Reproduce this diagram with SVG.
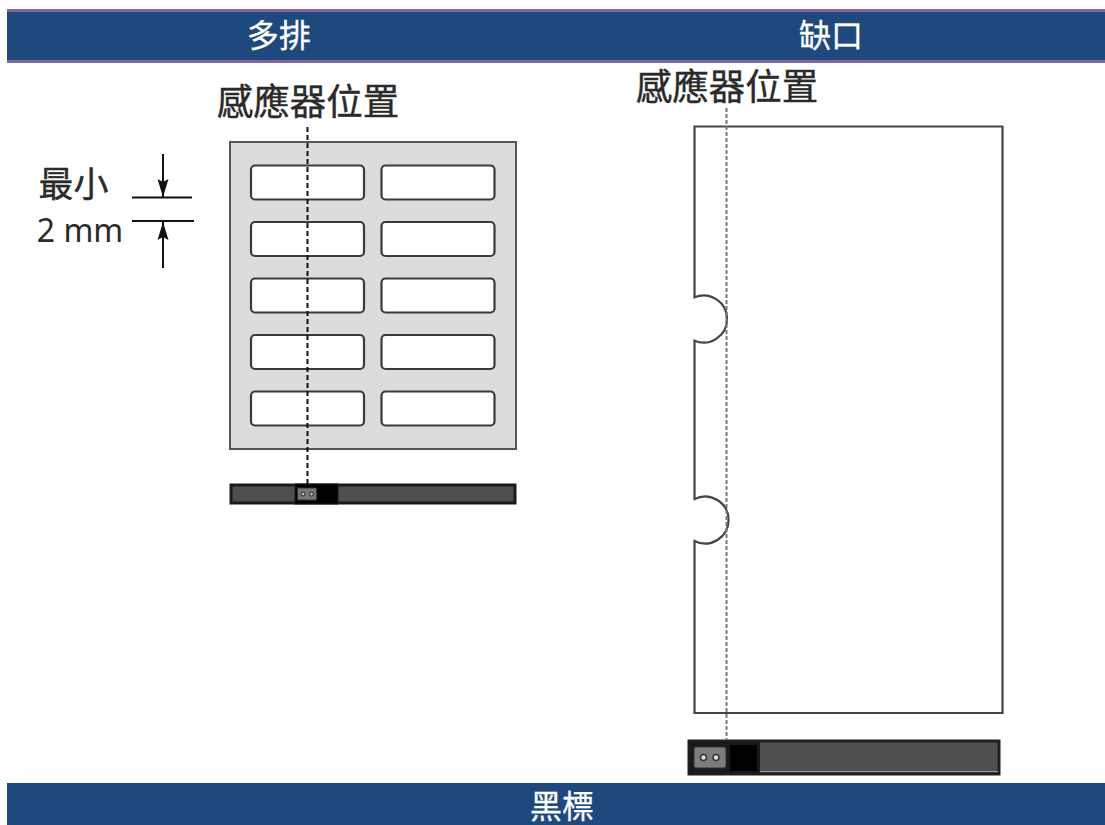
<svg xmlns="http://www.w3.org/2000/svg" width="1105" height="825" viewBox="0 0 1105 825">
<defs>
<style>
.bar{fill:#1f497d}
.rule{fill:#8064a2}
.hd{font-family:"Noto Sans CJK TC","Liberation Sans",sans-serif;font-size:32px;fill:#fff;stroke:#fff;stroke-width:.3;text-anchor:middle}
.lb{font-family:"Noto Sans CJK TC","Liberation Sans",sans-serif;font-size:36.500px;fill:#2a2a2a;stroke:#2a2a2a;stroke-width:.4;text-anchor:middle}
.lab{fill:#fff;stroke:#3a3a3a;stroke-width:2.200}
.ln{stroke:#111;stroke-width:2;fill:none}
</style>
<marker id="ah" viewBox="0 0 18 14" refX="18" refY="7" markerUnits="userSpaceOnUse" markerWidth="18" markerHeight="14" orient="auto"><path d="M0 1.500L18 7L0 12.500L3 7Z" fill="#111"/></marker>
</defs>
<rect width="1105" height="825" fill="#fff"/>
<g id="header-top">
<rect class="rule" x="7" y="9" width="1098" height="54"/>
<rect class="bar" x="7" y="12" width="1098" height="48"/>
<text class="hd" x="279" y="47">多排</text>
<text class="hd" x="831" y="47">缺口</text>
</g>
<g id="header-bottom">
<rect class="bar" x="7" y="783" width="1098" height="42"/>
<text class="hd" x="562" y="818">黑標</text>
</g>
<g id="left-sheet">
<rect x="230" y="142" width="286" height="307" fill="#dcdcdc" stroke="#555" stroke-width="2"/>
<rect class="lab" x="251" y="165.500" width="113" height="34" rx="4"/>
<rect class="lab" x="381.500" y="165.500" width="113" height="34" rx="4"/>
<rect class="lab" x="251" y="222" width="113" height="34" rx="4"/>
<rect class="lab" x="381.500" y="222" width="113" height="34" rx="4"/>
<rect class="lab" x="251" y="278.500" width="113" height="34" rx="4"/>
<rect class="lab" x="381.500" y="278.500" width="113" height="34" rx="4"/>
<rect class="lab" x="251" y="335" width="113" height="34" rx="4"/>
<rect class="lab" x="381.500" y="335" width="113" height="34" rx="4"/>
<rect class="lab" x="251" y="391.500" width="113" height="34" rx="4"/>
<rect class="lab" x="381.500" y="391.500" width="113" height="34" rx="4"/>
</g>
<g id="left-sensor">
<rect x="231" y="485" width="284" height="18" fill="#4f4f4f" stroke="#1a1a1a" stroke-width="3"/>
<rect x="295" y="484" width="43" height="20" fill="#000" stroke="#1a1a1a" stroke-width="1"/>
<rect x="297.500" y="488" width="19" height="12" fill="#777" stroke="#333"/>
<circle cx="303" cy="494" r="2" fill="#bbb" stroke="#222"/>
<circle cx="311.500" cy="494" r="2" fill="#bbb" stroke="#222"/>
</g>
<g id="left-label">
<text class="lb" x="308" y="115">感應器位置</text>
</g>
<g id="min-label">
<text x="73.500" y="197" font-family="'Noto Sans CJK TC',sans-serif" font-size="35" stroke="#2a2a2a" stroke-width=".4" fill="#2a2a2a" text-anchor="middle">最小</text>
<text x="80" y="242" font-family="'Noto Sans','DejaVu Sans',sans-serif" font-size="32" fill="#2a2a2a" text-anchor="middle">2 mm</text>
</g>
<g id="right-sheet">
<path d="M694.500 126.500H1002.500V713H694.500V541A23.500 23.500 0 1 0 694.500 499V340.700A23.500 23.500 0 1 0 694.500 297.300Z" fill="#fff" stroke="#444" stroke-width="2.200"/>
</g>
<g id="right-sensor">
<rect x="689" y="741" width="310" height="33" fill="#4f4f4f" stroke="#1f1f1f" stroke-width="3"/>
<rect x="689" y="742" width="71" height="32" fill="#1a1a1a"/>
<rect x="730" y="745" width="27" height="26" fill="#000"/>
<rect x="694" y="747" width="32" height="21" rx="2" fill="#7d7d7d" stroke="#333"/>
<circle cx="703.500" cy="757.500" r="3" fill="#ddd" stroke="#333" stroke-width="1.500"/>
<circle cx="716" cy="757.500" r="3" fill="#ddd" stroke="#333" stroke-width="1.500"/>
<path d="M760 771.500H998" stroke="#999" stroke-width="1"/>
</g>
<g id="right-label">
<text class="lb" x="727" y="100">感應器位置</text>
</g>
<g id="connectors">
<path d="M307.500 127V485" fill="none" stroke="#111" stroke-width="2" stroke-dasharray="5 3"/>
<path d="M726.500 108V740" fill="none" stroke="#777" stroke-width="2" stroke-dasharray="4 2"/>
<path class="ln" d="M132 197.500H192M132 221H194"/>
<path class="ln" d="M163 154V197" marker-end="url(#ah)"/>
<path class="ln" d="M163 268V222" marker-end="url(#ah)"/>
</g>
</svg>
